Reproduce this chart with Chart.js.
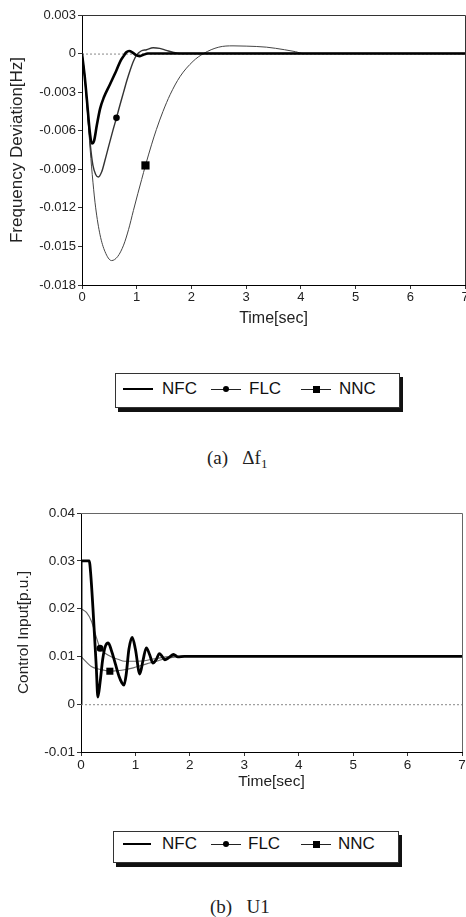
<!DOCTYPE html>
<html>
<head>
<meta charset="utf-8">
<script src="https://cdn.jsdelivr.net/npm/chart.js@4.4.1/dist/chart.umd.min.js"></script>
<style>
  body { margin: 0; width: 466px; height: 917px; overflow: hidden; background: #fff; position: relative;
         font-family: "Liberation Sans", Arial, sans-serif; color: #111; }
  canvas { position: absolute; left: 0; }
  .legend { position: absolute; border: 1px solid #333; background: #fff; box-shadow: 3px 4px 0 #111; }
  .legend span { position: absolute; }
  .lt { font-size: 17px; line-height: 18px; color: #111; }
  .ln { height: 1px; background: #222; }
  .ln.thick { height: 2px; background: #000; }
  .dot { width: 6px; height: 6px; border-radius: 50%; background: #000; }
  .sq { width: 7px; height: 7px; background: #000; }
  .cap { position: absolute; font-family: "Liberation Serif", "DejaVu Serif", serif; font-size: 19px; line-height: 22px; color: #222; white-space: pre; }
  .cap sub { font-size: 13px; vertical-align: -4px; }
</style>
</head>
<body>
<canvas id="chartA" width="480" height="330" style="top:0"></canvas>
<canvas id="chartB" width="480" height="320" style="top:480px"></canvas>

<div class="legend" style="left:115px;top:373px;width:283px;height:33px">
  <span class="ln thick" style="left:7px;top:14px;width:30px"></span><span class="lt" style="left:46px;top:6px">NFC</span>
  <span class="ln" style="left:95px;top:15px;width:30px"></span><span class="dot" style="left:107px;top:12px"></span><span class="lt" style="left:133px;top:6px">FLC</span>
  <span class="ln" style="left:185px;top:15px;width:30px"></span><span class="sq" style="left:197px;top:12px"></span><span class="lt" style="left:223px;top:6px">NNC</span>
</div>
<div class="cap" style="left:207px;top:447px">(a)   Δf<sub>1</sub></div>

<div class="legend" style="left:113px;top:831px;width:284px;height:30px">
  <span class="ln thick" style="left:9px;top:11px;width:28px"></span><span class="lt" style="left:48px;top:3px">NFC</span>
  <span class="ln" style="left:97px;top:12px;width:30px"></span><span class="dot" style="left:109px;top:9px"></span><span class="lt" style="left:134px;top:3px">FLC</span>
  <span class="ln" style="left:187px;top:12px;width:30px"></span><span class="sq" style="left:199px;top:9px"></span><span class="lt" style="left:224px;top:3px">NNC</span>
</div>
<div class="cap" style="left:210px;top:896px">(b)   U1</div>

<script>
// ---- data ----
// (a) frequency deviation [Hz]
var tNFC_a = [0, 0.05, 0.1, 0.14, 0.18, 0.22, 0.27, 0.33, 0.4, 0.51, 0.63, 0.7, 0.76, 0.81, 0.86, 0.92, 0.98, 1.05, 1.12, 1.2, 7];
var vNFC_a = [0, -0.0018, -0.0041, -0.0060, -0.0070, -0.0068, -0.0056, -0.0043, -0.0034, -0.0024, -0.0013, -0.0006, -0.0002, 0.0001, 0.0002, 0.0001, -0.0001, -0.0002, -0.0001, 0, 0];

var tFLC_a = [0, 0.05, 0.1, 0.15, 0.2, 0.25, 0.3, 0.36, 0.42, 0.5, 0.57, 0.63, 0.7, 0.76, 0.82, 0.88, 0.94, 1.0, 1.08, 1.18, 1.3, 1.42, 1.54, 1.66, 1.8, 7];
var vFLC_a = [0, -0.0018, -0.0044, -0.0070, -0.0087, -0.0094, -0.0096, -0.0092, -0.0083, -0.0070, -0.0059, -0.0050, -0.0039, -0.0030, -0.0021, -0.0013, -0.0006, -0.0001, 0.0002, 0.0003, 0.00045, 0.0004, 0.00025, 0.0001, 0, 0];

var tNNC_a = [0, 0.05, 0.1, 0.15, 0.2, 0.25, 0.33, 0.42, 0.54, 0.65, 0.76, 0.85, 0.94, 1.02, 1.09, 1.16, 1.27, 1.36, 1.48, 1.61, 1.79, 2.03, 2.22, 2.5, 2.76, 3.0, 3.37, 3.7, 3.9, 4.05, 7];
var vNNC_a = [0, -0.0018, -0.0045, -0.0075, -0.0100, -0.0120, -0.0141, -0.0154, -0.0161, -0.0158, -0.0149, -0.0137, -0.0122, -0.0109, -0.0098, -0.0087, -0.0071, -0.0059, -0.0045, -0.0032, -0.0018, -0.0006, 0, 0.0005, 0.0006, 0.00058, 0.0005, 0.0003, 0.00015, 0, 0];

// (b) control input [p.u.]
var tNFC_b = [0, 0.002, 0.15, 0.18, 0.22, 0.25, 0.28, 0.31, 0.35, 0.4, 0.45, 0.5, 0.56, 0.63, 0.7, 0.75, 0.79, 0.83, 0.88, 0.94, 1.0, 1.08, 1.14, 1.2, 1.26, 1.32, 1.38, 1.44, 1.49, 1.54, 1.62, 1.7, 1.78, 1.9, 7];
var vNFC_b = [0, 0.030, 0.030, 0.027, 0.020, 0.014, 0.008, 0.0015, 0.0045, 0.0095, 0.0122, 0.0128, 0.0112, 0.0085, 0.0058, 0.0045, 0.0040, 0.0062, 0.0115, 0.0140, 0.0115, 0.0063, 0.0092, 0.0118, 0.0104, 0.0086, 0.0093, 0.0106, 0.0100, 0.0093, 0.0098, 0.0104, 0.0099, 0.0100, 0.0100];

var tFLC_b = [0, 0.1, 0.19, 0.28, 0.35, 0.45, 0.56, 0.68, 0.8, 0.95, 1.17, 1.35, 1.5, 1.7, 1.9, 7];
var vFLC_b = [0.020, 0.0192, 0.0174, 0.0141, 0.0117, 0.0106, 0.0099, 0.0094, 0.0090, 0.0090, 0.0091, 0.0095, 0.0098, 0.0100, 0.0100, 0.0100];

var tNNC_b = [0, 0.1, 0.19, 0.3, 0.43, 0.53, 0.65, 0.8, 0.96, 1.1, 1.26, 1.42, 1.57, 1.75, 1.9, 7];
var vNNC_b = [0.0100, 0.0088, 0.0079, 0.0074, 0.0071, 0.0069, 0.0070, 0.0072, 0.0076, 0.0081, 0.0086, 0.0091, 0.0096, 0.0099, 0.0100, 0.0100];

// marker positions (index into the series above)
var markFLC_a = 11, markNNC_a = 15, markFLC_b = 4, markNNC_b = 5;

// axes
var xTickVals = [0, 1, 2, 3, 4, 5, 6, 7];
var xTickLabels = ['0', '1', '2', '3', '4', '5', '6', '7'];
var yTickValsA = [-0.018, -0.015, -0.012, -0.009, -0.006, -0.003, 0, 0.003];
var yTickLabelsA = ['-0.018', '-0.015', '-0.012', '-0.009', '-0.006', '-0.003', '0', '0.003'];
var yTickValsB = [-0.01, 0, 0.01, 0.02, 0.03, 0.04];
var yTickLabelsB = ['-0.01', '0', '0.01', '0.02', '0.03', '0.04'];

Chart.defaults.font.family = '"Liberation Sans", Arial, sans-serif';
Chart.defaults.color = '#222';

function pts(t, v) {
  return t.map(function (x, i) { return { x: x, y: v[i] }; });
}

// dotted zero line plus top/right frame
var framePlugin = {
  id: 'frame',
  beforeDatasetsDraw: function (chart, args, opts) {
    var ctx = chart.ctx, a = chart.chartArea;
    var y0 = chart.scales.y.getPixelForValue(0);
    ctx.save();
    ctx.strokeStyle = '#888';
    ctx.lineWidth = 1;
    ctx.setLineDash([2, 2]);
    ctx.beginPath();
    ctx.moveTo(a.left, y0 + 0.5);
    ctx.lineTo(a.right, y0 + 0.5);
    ctx.stroke();
    ctx.restore();
  },
  afterDraw: function (chart, args, opts) {
    var ctx = chart.ctx, a = chart.chartArea;
    ctx.save();
    ctx.strokeStyle = opts.color;
    ctx.lineWidth = 1;
    ctx.beginPath();
    ctx.moveTo(a.left, a.top + 0.5);
    ctx.lineTo(a.right + 0.5, a.top + 0.5);
    ctx.lineTo(a.right + 0.5, a.bottom);
    ctx.stroke();
    ctx.restore();
  }
};

function lineSet(label, data, width, color, mark, style, radius) {
  return {
    label: label,
    data: data,
    borderColor: color,
    borderWidth: width,
    backgroundColor: '#000',
    cubicInterpolationMode: 'monotone',
    pointStyle: style || 'circle',
    pointRadius: function (c) { return c.dataIndex === mark ? radius : 0; },
    pointBorderWidth: 0,
    pointBackgroundColor: '#000',
    pointHoverRadius: 0
  };
}

function makeChart(id, datasets, yVals, yLabels, yTitle, cfg) {
  return new Chart(document.getElementById(id), {
    type: 'line',
    data: { datasets: datasets },
    plugins: [framePlugin],
    options: {
      responsive: false,
      animation: false,
      devicePixelRatio: 1,
      layout: { padding: { top: cfg.top, right: cfg.right, left: 0, bottom: 0 } },
      plugins: { legend: { display: false }, tooltip: { enabled: false }, frame: { color: cfg.frame } },
      scales: {
        x: {
          type: 'linear', min: 0, max: 7,
          afterBuildTicks: function (s) { s.ticks = xTickVals.map(function (v) { return { value: v }; }); },
          afterFit: function (s) { s.height = cfg.xHeight; },
          ticks: { autoSkip: false, maxRotation: 0, padding: 1, font: { size: cfg.tickSize },
                   callback: function (v) { return xTickLabels[xTickVals.indexOf(v)]; } },
          grid: { drawOnChartArea: false, tickLength: 4, tickColor: '#333' },
          border: { color: '#000', width: 1 },
          title: { display: true, text: 'Time[sec]', font: { size: cfg.titleSize }, padding: { top: 0, bottom: cfg.xTitlePad } }
        },
        y: {
          type: 'linear', min: yVals[0], max: yVals[yVals.length - 1],
          afterBuildTicks: function (s) { s.ticks = yVals.map(function (v) { return { value: v }; }); },
          afterFit: function (s) { s.width = cfg.yWidth; },
          ticks: { autoSkip: false, padding: 2, font: { size: cfg.tickSize },
                   callback: function (v) { return yLabels[yVals.indexOf(v)]; } },
          grid: { drawOnChartArea: false, tickLength: 4, tickColor: '#333' },
          border: { color: '#000', width: 1 },
          title: { display: true, text: yTitle, font: { size: cfg.yTitleSize }, padding: { top: cfg.yTitlePad, bottom: 0 } }
        }
      }
    }
  });
}

makeChart('chartA', [
  lineSet('NFC', pts(tNFC_a, vNFC_a), 2.6, '#000', -1, 'circle', 0),
  lineSet('FLC', pts(tFLC_a, vFLC_a), 1.4, '#333', markFLC_a, 'circle', 3.3),
  lineSet('NNC', pts(tNNC_a, vNNC_a), 1, '#444', markNNC_a, 'rect', 5.8)
], yTickValsA, yTickLabelsA, 'Frequency Deviation[Hz]', {
  top: 15, right: 15, xHeight: 45, yWidth: 82, tickSize: 13, titleSize: 16, yTitleSize: 17,
  xTitlePad: 2, yTitlePad: 7, frame: '#333'
});

makeChart('chartB', [
  lineSet('NFC', pts(tNFC_b, vNFC_b), 2.8, '#000', -1, 'circle', 0),
  lineSet('FLC', pts(tFLC_b, vFLC_b), 1.1, '#666', markFLC_b, 'circle', 3.5),
  lineSet('NNC', pts(tNNC_b, vNNC_b), 1.1, '#666', markNNC_b, 'rect', 5)
], yTickValsB, yTickLabelsB, 'Control Input[p.u.]', {
  top: 33, right: 18, xHeight: 48, yWidth: 81, tickSize: 13.5, titleSize: 15.5, yTitleSize: 15.5,
  xTitlePad: 9, yTitlePad: 14, frame: '#666'
});
</script>
</body>
</html>
